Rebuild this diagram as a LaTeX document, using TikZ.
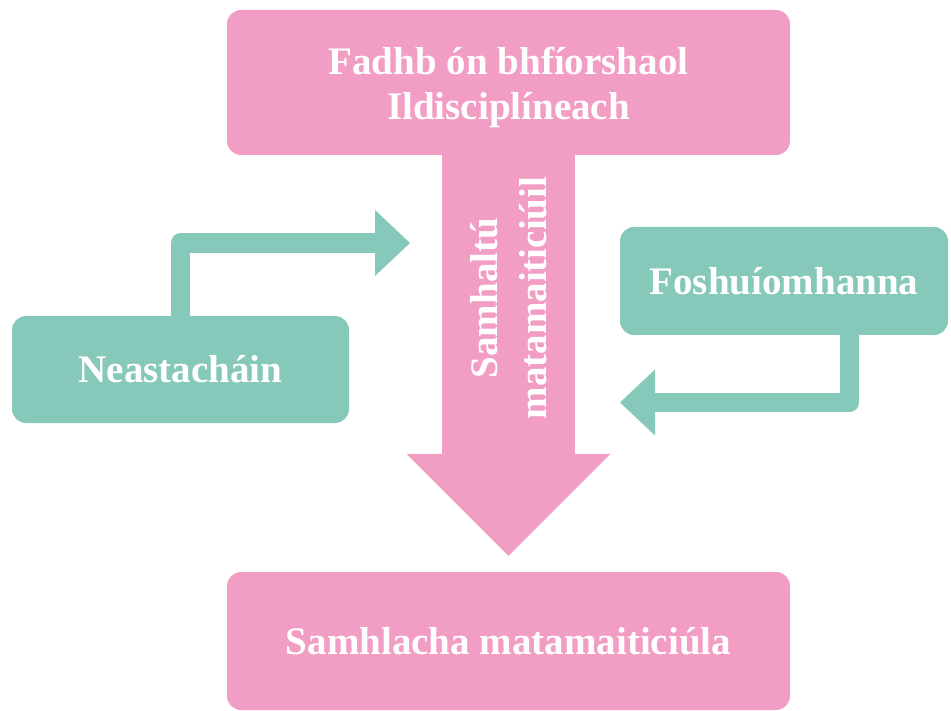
\documentclass[tikz,border=0pt]{standalone}
\usepackage{fontspec}
\setmainfont{Liberation Serif}
\usetikzlibrary{arrows.meta,calc}
\definecolor{pk}{HTML}{F19DC4}
\definecolor{tl}{HTML}{86C9BB}
\begin{document}
\begin{tikzpicture}[x=1pt,y=-1pt,
  box/.style={rounded corners=14pt, inner sep=0pt, text=white, align=center,
    font=\bfseries\fontsize{39}{45}\selectfont},
  pbox/.style={box, fill=pk},
  tbox/.style={box, fill=tl},
  tconn/.style={draw=tl, line width=19.5pt, line join=round,
    -{Triangle[width=66pt,length=35pt,line width=0pt]}},
  pconn/.style={draw=pk, line width=133pt, shorten >=16pt,
    -{Triangle[width=204pt,length=102pt,line width=0pt]}},
  vlbl/.style={text=white, align=center, rotate=90, inner sep=0pt,
    font=\bfseries\fontsize{39}{49}\selectfont}]
\useasboundingbox (0,0) rectangle (951,711);
% boxes
\node[pbox, minimum width=563pt, minimum height=145pt] (top) at (508.5,82.5)
  {\rule{0pt}{38pt}Fadhb ón bhfíorshaol\\Ildisciplíneach};
\node[pbox, minimum width=563pt, minimum height=138pt] (bot) at (508.5,641)
  {Samhlacha matamaiticiúla};
\node[tbox, minimum width=337pt, minimum height=107pt] (ne) at (180.5,369.5)
  {Neastacháin};
\node[tbox, minimum width=328pt, minimum height=108pt] (fo) at (784,281)
  {Foshuíomhanna};
% main pink arrow
\draw[pconn] (top.south) -- (bot.north);
\node[vlbl] (sm) at (509,298) {Samhaltú\\matamaiticiúil};
% teal connectors
\coordinate (lt) at (410,243);
\draw[tconn] (ne.north) |- (lt);
\coordinate (rs) at ($(fo.south)+(65.5,0)$);
\coordinate (rt) at (620,402.5);
\draw[tconn] (rs) |- (rt);
\end{tikzpicture}
\end{document}
